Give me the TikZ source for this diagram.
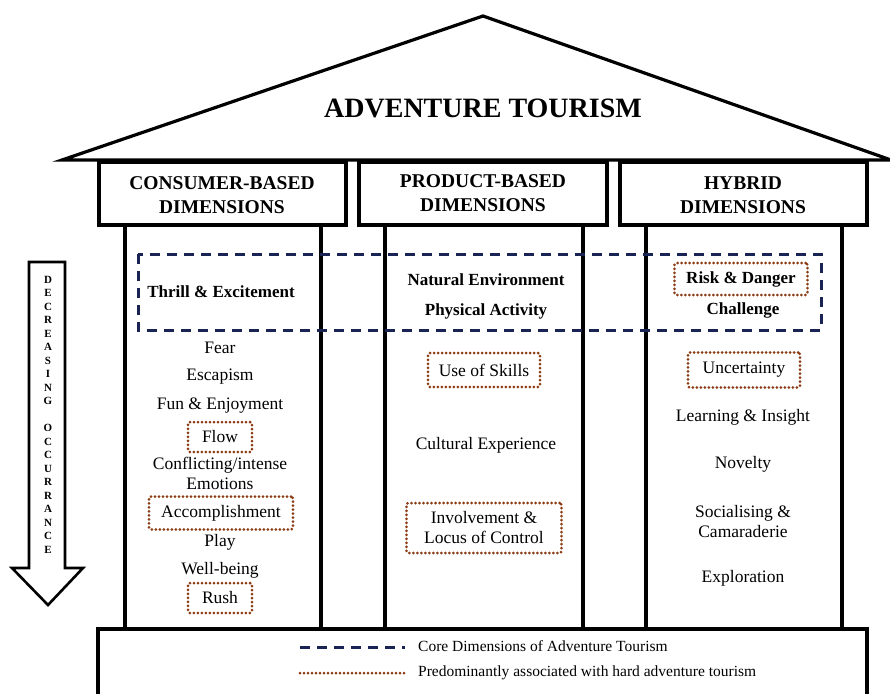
\documentclass[tikz,border=0pt]{standalone}
\usepackage{fontspec}
\setmainfont{Liberation Serif}
\usepackage{xcolor}
\usetikzlibrary{positioning,shapes,arrows}

\definecolor{coreblue}{RGB}{26,36,84}
\definecolor{hardbrown}{RGB}{140,60,20}

\begin{document}
\begin{tikzpicture}[x=1pt,y=-1pt]
\tikzstyle{every node}+=[inner sep=0pt]
\tikzstyle{frame}=[black,line width=3.2pt]
\tikzstyle{core}=[coreblue,line width=3pt,dash pattern=on 10pt off 7pt]
\tikzstyle{hard}=[draw=hardbrown,line width=3pt,line cap=round,dash pattern=on 0pt off 4pt,rounded corners=2pt]
\tikzstyle{item}=[font=\fontsize{17.5}{20}\selectfont,align=center]
\tikzstyle{keyitem}=[font=\bfseries\fontsize{17}{20}\selectfont,align=center]
\tikzstyle{head}=[font=\bfseries\fontsize{19.5}{24}\selectfont,align=center]
\tikzstyle{key}=[font=\fontsize{15.5}{17}\selectfont,anchor=west]
\useasboundingbox (0,0) rectangle (890,693);
% roof
\draw [frame,line join=miter] (62,160) -- (483,16) -- (891,160) -- cycle;
\node [font=\bfseries\fontsize{28}{30}\selectfont] (title) at (483,108) {ADVENTURE TOURISM};
% dimension boxes
\draw [frame] (99,162) rectangle (346,225);
\draw [frame] (359,162) rectangle (607,225);
\draw [frame] (620,162) rectangle (867,225);
\node [head] (consumer) at (222,195) {CONSUMER-BASED\\DIMENSIONS};
\node [head] (product) at (483,193) {PRODUCT-BASED\\DIMENSIONS};
\node [head] (hybrid) at (743,195) {HYBRID\\DIMENSIONS};
% pillars
\draw [frame] (125,225) -- (125,629);
\draw [frame] (321,225) -- (321,629);
\draw [frame] (385,225) -- (385,629);
\draw [frame] (583,225) -- (583,629);
\draw [frame] (646,225) -- (646,629);
\draw [frame] (842,225) -- (842,629);
% base
\draw [frame] (98,700) -- (98,629) -- (867,629) -- (867,700);
% core dimensions
\draw [core] (138,254) rectangle (821,330);
% consumer-based
\node [keyitem] (thrill) at (221,292) {Thrill \& Excitement};
\node [item] (fear) at (220,348) {Fear};
\node [item] (escapism) at (220,377) {Escapism};
\node [item] (fun) at (220,406) {Fun \& Enjoyment};
\node [item,hard,minimum width=64,minimum height=30] (flow) at (220,437) {Flow};
\node [item] (emotions) at (220,473) {Conflicting/intense\\Emotions};
\node [item,hard,minimum width=144,minimum height=33] (accomplish) at (221,513) {Accomplishment};
\node [item] (play) at (220,542) {Play};
\node [item] (wellbeing) at (220,570) {Well-being};
\node [item,hard,minimum width=64,minimum height=30] (rush) at (220,598) {Rush};
% product-based
\node [keyitem] (nature) at (486,280) {Natural Environment};
\node [keyitem] (physical) at (486,311) {Physical Activity};
\node [item,hard,minimum width=112,minimum height=34] (skills) at (484,370) {Use of Skills};
\node [item] (culture) at (486,445) {Cultural Experience};
\node [item,hard,minimum width=155,minimum height=50] (control) at (484,528) {Involvement \&\\Locus of Control};
% hybrid
\node [keyitem,hard,minimum width=133,minimum height=32] (risk) at (741,279) {Risk \& Danger};
\node [keyitem] (challenge) at (743,310) {Challenge};
\node [item,hard,minimum width=112,minimum height=35] (uncertainty) at (744,370) {Uncertainty};
\node [item] (learning) at (743,417) {Learning \& Insight};
\node [item] (novelty) at (743,464) {Novelty};
\node [item] (social) at (743,522) {Socialising \&\\Camaraderie};
\node [item] (explore) at (743,578) {Exploration};
% occurrence arrow
\draw [black,line width=2.6pt,line join=miter] (29,262) -- (65,262) -- (65,568) -- (83,568) -- (48,605) -- (12,568) -- (29,568) -- cycle;
\node [font=\bfseries\fontsize{11}{13.5}\selectfont,align=center,anchor=north] (occur) at (48,276)
  {D\\E\\C\\R\\E\\A\\S\\I\\N\\G\\[13.5pt]O\\C\\C\\U\\R\\R\\A\\N\\C\\E};
% legend
\coordinate (coreA) at (300,647);
\coordinate (coreB) at (405,647);
\coordinate (hardA) at (300,673);
\coordinate (hardB) at (405,673);
\draw [core] (coreA) -- (coreB);
\draw [hard,rounded corners=0pt] (hardA) -- (hardB);
\node [key] (corekey) at (418,646) {Core Dimensions of Adventure Tourism};
\node [key] (hardkey) at (418,673) {Predominantly associated with hard adventure tourism};
\end{tikzpicture}
\end{document}
